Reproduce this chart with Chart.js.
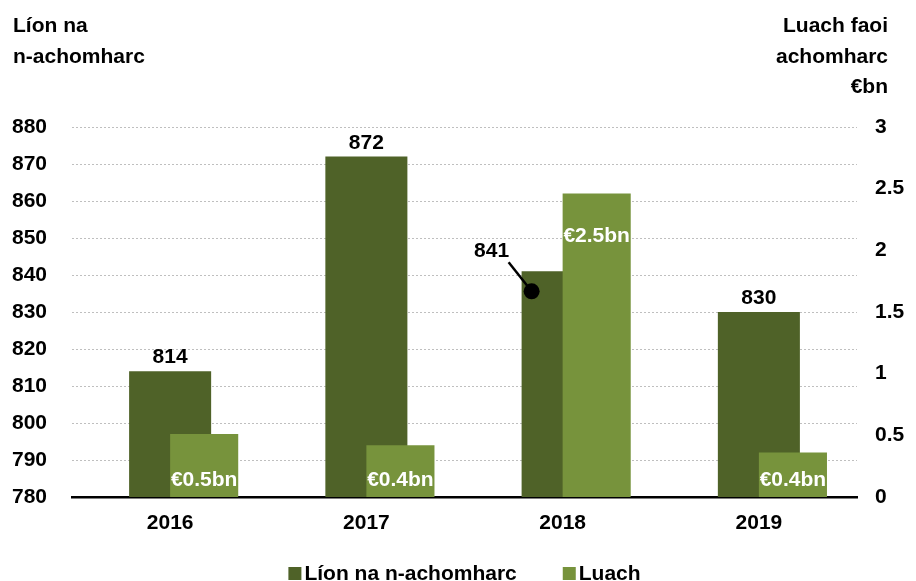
<!DOCTYPE html>
<html>
<head>
<meta charset="utf-8">
<script src="https://cdn.jsdelivr.net/npm/chart.js@4.4.1/dist/chart.umd.min.js"></script>
<style>
    html, body { margin: 0; padding: 0; background: #fff; }
    #contenedor { width: 916px; height: 581px; }
</style>
</head>
<body>
<div id="contenedor"><canvas id="grafico" width="916" height="581"></canvas></div>
<script>
// Datos
const anios = ['2016', '2017', '2018', '2019'];
const lionAchomharc = [814, 872, 841, 830];
const luachBn = [0.51, 0.42, 2.46, 0.36];
const luachTextos = ['€0.5bn', '€0.4bn', '€2.5bn', '€0.4bn'];
const ticksIzq = [780, 790, 800, 810, 820, 830, 840, 850, 860, 870, 880];
const ticksDer = [0, 0.5, 1, 1.5, 2, 2.5, 3];
const tituloIzq = ['Líon na', 'n-achomharc'];
const tituloDer = ['Luach faoi', 'achomharc', '€bn'];
const nombresSeries = ['Líon na n-achomharc', 'Luach'];

const FAMILIA = '"Liberation Sans", Arial, sans-serif';
const FUENTE = 'bold 21px ' + FAMILIA;
const colores = ['#4F6228', '#77933C'];

// Etiquetas, títulos de ejes, leyenda y desplazamiento de la serie clara
const pluginEtiquetas = {
    id: 'etiquetas',
    beforeDatasetDraw(chart, args) {
        if (args.index === 1) {
            const barra = chart.getDatasetMeta(1).data[0];
            chart.ctx.save();
            chart.ctx.translate(barra.width / 2, 0);
        }
    },
    afterDatasetDraw(chart, args) {
        if (args.index === 1) chart.ctx.restore();
    },
    afterDatasetsDraw(chart) {
        const ctx = chart.ctx;
        const oscuro = chart.getDatasetMeta(0);
        const claro = chart.getDatasetMeta(1);
        ctx.save();
        ctx.font = FUENTE;
        ctx.textBaseline = 'alphabetic';
        ctx.textAlign = 'center';

        oscuro.data.forEach((barra, i) => {
            const vecina = claro.data[i];
            const texto = String(lionAchomharc[i]);
            ctx.fillStyle = '#000';
            if (vecina.y < barra.y - 30) {
                // la barra clara tapa el sitio: etiqueta con línea y punto
                ctx.fillText(texto, barra.x - 71, barra.y - 14);
                ctx.strokeStyle = '#000';
                ctx.lineWidth = 2.5;
                ctx.beginPath();
                ctx.moveTo(barra.x - 54, barra.y - 9);
                ctx.lineTo(barra.x - 31, barra.y + 20);
                ctx.stroke();
                ctx.beginPath();
                ctx.arc(barra.x - 31, barra.y + 20, 8, 0, Math.PI * 2);
                ctx.fill();
            } else {
                ctx.fillText(texto, barra.x, barra.y - 8);
            }

            const cx = vecina.x + vecina.width / 2;
            ctx.fillStyle = '#fff';
            if (vecina.base - vecina.y > 100) {
                ctx.fillText(luachTextos[i], cx, vecina.y + 48);
            } else {
                ctx.fillText(luachTextos[i], cx, vecina.base - 11);
            }
        });
        ctx.restore();
    },
    afterDraw(chart) {
        const ctx = chart.ctx;
        ctx.save();
        ctx.font = FUENTE;
        ctx.fillStyle = '#000';
        ctx.textBaseline = 'alphabetic';

        // títulos de los ejes
        ctx.textAlign = 'left';
        tituloIzq.forEach((linea, i) => ctx.fillText(linea, 13, 32 + i * 31));
        ctx.textAlign = 'right';
        tituloDer.forEach((linea, i) => ctx.fillText(linea, 888, 32 + i * 30.5));

        // leyenda
        const caja = 13, hueco = 3, separacion = 46;
        const anchos = nombresSeries.map(t => ctx.measureText(t).width);
        const total = anchos.reduce((a, w) => a + caja + hueco + w, 0) + separacion;
        const area = chart.chartArea;
        let x = (area.left + area.right) / 2 - total / 2;
        const base = 580;
        ctx.textAlign = 'left';
        nombresSeries.forEach((t, i) => {
            ctx.fillStyle = colores[i];
            ctx.fillRect(x, base - 13, caja, caja);
            ctx.fillStyle = '#000';
            ctx.fillText(t, x + caja + hueco, base);
            x += caja + hueco + anchos[i] + separacion;
        });
        ctx.restore();
    }
};

const ctx = document.getElementById('grafico').getContext('2d');
const grafico = new Chart(ctx, {
    type: 'bar',
    data: {
        labels: anios,
        datasets: [
            {
                label: nombresSeries[0],
                data: lionAchomharc,
                backgroundColor: colores[0],
                yAxisID: 'yIzq',
                grouped: false,
                barPercentage: 0.418,
                categoryPercentage: 1,
                order: 2
            },
            {
                label: nombresSeries[1],
                data: luachBn,
                backgroundColor: colores[1],
                yAxisID: 'yDer',
                grouped: false,
                barPercentage: 0.347,
                categoryPercentage: 1,
                order: 1
            }
        ]
    },
    options: {
        responsive: false,
        animation: false,
        devicePixelRatio: 1,
        layout: { padding: { top: 127, left: 0, right: 0, bottom: 0 } },
        plugins: {
            legend: { display: false },
            tooltip: { enabled: false }
        },
        scales: {
            x: {
                afterFit: eje => { eje.height = 84; },
                grid: { display: false, drawTicks: false },
                border: { display: true, color: '#000', width: 2.5 },
                ticks: { color: '#000', font: { family: FAMILIA, size: 21, weight: 'bold' }, padding: 14 }
            },
            yIzq: {
                position: 'left',
                min: ticksIzq[0],
                max: ticksIzq[ticksIzq.length - 1],
                afterBuildTicks: eje => { eje.ticks = ticksIzq.map(v => ({ value: v })); },
                afterFit: eje => { eje.width = 72; },
                grid: { color: '#bfbfbf', lineWidth: 1, drawTicks: false },
                border: { display: false, dash: [2, 2] },
                ticks: {
                    color: '#000',
                    font: { family: FAMILIA, size: 21, weight: 'bold' },
                    padding: 25,
                    callback: v => String(v)
                }
            },
            yDer: {
                position: 'right',
                min: ticksDer[0],
                max: ticksDer[ticksDer.length - 1],
                afterBuildTicks: eje => { eje.ticks = ticksDer.map(v => ({ value: v })); },
                afterFit: eje => { eje.width = 59; },
                grid: { display: false, drawTicks: false },
                border: { display: false },
                ticks: {
                    color: '#000',
                    font: { family: FAMILIA, size: 21, weight: 'bold' },
                    padding: 18,
                    crossAlign: 'near',
                    callback: v => String(v)
                }
            }
        }
    },
    plugins: [pluginEtiquetas]
});
</script>
</body>
</html>
